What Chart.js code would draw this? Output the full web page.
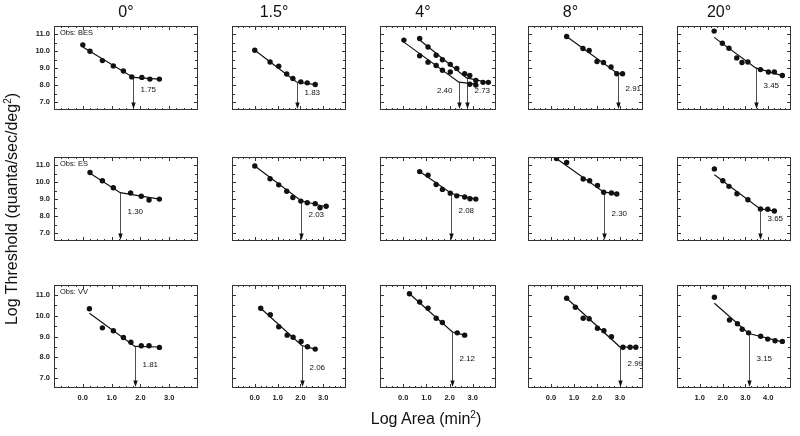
<!DOCTYPE html>
<html>
<head>
<meta charset="utf-8">
<script src="https://cdn.jsdelivr.net/npm/chart.js@4.4.0/dist/chart.umd.min.js"></script>
<style>
  body { margin: 0; background: #fff; width: 800px; height: 436px; overflow: hidden; position: relative;
         font-family: "Liberation Sans", Arial, sans-serif; color: #111; }
  canvas { position: absolute; }
  .txt { position: absolute; font-size: 16px; line-height: 20px; text-align: center; white-space: nowrap; }
  sup { font-size: 10px; line-height: 0; }
</style>
</head>
<body>
<script>
// column headings, observers, ticks
const eccentricities = ['0°', '1.5°', '4°', '8°', '20°'];
const observers = ['BES', 'ES', 'VV'];
const yTickValues = [7, 8, 9, 10, 11];
const xTickValues = [0, 1, 2, 3];
const xTickValues20 = [1, 2, 3, 4];
const yRange = [6.53, 11.48];
const xRanges = [[-1, 4], [-1, 4], [-1, 4], [-1, 4], [0, 5]];

// Obs: BES  [log area, log threshold]; fits are [start, breakpoint, end]
const bes0 = [[0.00,10.37],[0.25,9.99],[0.68,9.44],[1.06,9.13],[1.41,8.83],[1.70,8.48],[2.05,8.45],[2.33,8.35],[2.66,8.35]];
const besFit0 = [[0.00,10.24],[1.75,8.45],[2.66,8.35]];
const bes15 = [[0.00,10.05],[0.67,9.36],[1.05,9.11],[1.40,8.65],[1.67,8.39],[2.02,8.19],[2.30,8.13],[2.65,8.03]];
const besFit15 = [[0.00,10.05],[1.83,8.18],[2.65,8.03]];
const bes4Lower = [[0.03,10.65],[0.71,9.73],[1.07,9.35],[1.42,9.15],[1.69,8.87],[2.03,8.77],[2.87,8.05],[3.13,8.00]];
const besFit4Lower = [[0.03,10.53],[2.40,8.17],[3.13,8.05]];
const bes4Upper = [[0.71,10.74],[1.07,10.24],[1.42,9.76],[1.69,9.49],[2.03,9.22],[2.31,8.98],[2.65,8.67],[2.87,8.56],[3.13,8.27],[3.44,8.16],[3.67,8.16]];
const besFit4Upper = [[0.71,10.65],[2.73,8.42],[3.67,8.15]];
const bes8 = [[0.68,10.86],[1.39,10.15],[1.66,10.04],[2.00,9.39],[2.28,9.33],[2.61,9.06],[2.86,8.67],[3.11,8.67]];
const besFit8 = [[0.68,10.86],[2.91,8.67],[3.11,8.67]];
const bes20 = [[1.63,11.18],[1.99,10.46],[2.28,10.17],[2.62,9.60],[2.85,9.33],[3.11,9.36],[3.66,8.91],[4.01,8.77],[4.27,8.77],[4.62,8.56]];
const besFit20 = [[1.63,10.81],[3.45,9.01],[4.62,8.56]];

// Obs: ES
const es0 = [[0.25,10.57],[0.68,10.08],[1.06,9.67],[1.66,9.36],[2.03,9.17],[2.30,8.95],[2.66,9.00]];
const esFit0 = [[0.25,10.52],[1.30,9.38],[2.66,9.00]];
const es15 = [[0.00,10.95],[0.67,10.20],[1.05,9.84],[1.40,9.46],[1.67,9.09],[2.02,8.88],[2.30,8.78],[2.65,8.73],[2.86,8.49],[3.13,8.58]];
const esFit15 = [[0.00,10.95],[2.03,8.90],[3.13,8.55]];
const es4 = [[0.71,10.62],[1.07,10.41],[1.42,9.86],[1.69,9.57],[2.03,9.35],[2.31,9.19],[2.65,9.12],[2.88,9.02],[3.13,9.00]];
const esFit4 = [[0.71,10.62],[2.08,9.33],[3.13,9.00]];
const es8 = [[0.24,11.39],[0.68,11.16],[1.40,10.18],[1.68,10.08],[2.02,9.80],[2.29,9.40],[2.63,9.36],[2.86,9.30]];
const esFit8 = [[0.20,11.42],[2.30,9.41],[2.86,9.32]];
const es20 = [[1.64,10.78],[2.01,10.08],[2.28,9.75],[2.63,9.31],[3.11,8.96],[3.66,8.42],[3.98,8.40],[4.27,8.30]];
const esFit20 = [[1.64,10.44],[3.65,8.42],[4.27,8.30]];

// Obs: VV
const vv0 = [[0.23,10.34],[0.68,9.42],[1.06,9.28],[1.41,8.96],[1.67,8.73],[2.03,8.56],[2.30,8.56],[2.66,8.48]];
const vvFit0 = [[0.23,10.12],[1.81,8.53],[2.66,8.50]];
const vv15 = [[0.26,10.36],[0.68,10.05],[1.05,9.47],[1.42,9.07],[1.68,8.97],[2.03,8.77],[2.31,8.51],[2.65,8.40]];
const vvFit15 = [[0.26,10.36],[2.06,8.57],[2.65,8.40]];
const vv4 = [[0.27,11.06],[0.71,10.66],[1.07,10.36],[1.42,9.88],[1.69,9.68],[2.33,9.18],[2.65,9.07]];
const vvFit4 = [[0.27,11.06],[2.12,9.22],[2.65,9.07]];
const vv8 = [[0.68,10.84],[1.06,10.41],[1.40,9.88],[1.66,9.86],[2.02,9.40],[2.30,9.28],[2.63,8.99],[3.13,8.49],[3.44,8.49],[3.69,8.49]];
const vvFit8 = [[0.68,10.84],[2.99,8.51],[3.69,8.49]];
const vv20 = [[1.64,10.89],[2.30,9.80],[2.65,9.62],[2.86,9.35],[3.14,9.18],[3.67,9.02],[3.98,8.88],[4.30,8.80],[4.62,8.77]];
const vvFit20 = [[1.64,10.60],[3.15,9.15],[4.62,8.75]];

// panel boxes in page pixels
const colBoxes = [[54,198],[202,346],[350,496],[498,643],[647,791]];
const rowBoxes = [[26,128],[157,259],[285,388]];
const PAD = 10, Y_AXIS_W = 30, X_AXIS_H = 18;

const curve = (pts, fit, rise, left) => ({ pts, fit, rise, left: !!left });
const grid = [
  [[curve(bes0, besFit0, 20)], [curve(bes15, besFit15, 17)],
   [curve(bes4Lower, besFit4Lower, 19, true), curve(bes4Upper, besFit4Upper, 19)],
   [curve(bes8, besFit8, 21)], [curve(bes20, besFit20, 24)]],
  [[curve(es0, esFit0, 29)], [curve(es15, esFit15, 26)], [curve(es4, esFit4, 30)],
   [curve(es8, esFit8, 27)], [curve(es20, esFit20, 22)]],
  [[curve(vv0, vvFit0, 23)], [curve(vv15, vvFit15, 20)], [curve(vv4, vvFit4, 29)],
   [curve(vv8, vvFit8, 24)], [curve(vv20, vvFit20, 29)]]
];

const FONT = '"Liberation Sans", Arial, sans-serif';
const toXY = arr => arr.map(([x, y]) => ({ x, y }));

// panel box with inward ticks, observer tag, and breakpoint arrows
const panelPlugin = {
  id: 'panelDeco',
  afterDatasetsDraw(chart, args, opts) {
    const ctx = chart.ctx;
    const a = chart.chartArea;
    const x = chart.scales.x, y = chart.scales.y;
    const L = Math.round(a.left), T = Math.round(a.top);
    const R = Math.round(a.right) - 1, B = Math.round(a.bottom) - 1;
    ctx.save();
    ctx.fillStyle = '#333';
    ctx.fillRect(L, T, R - L + 1, 1);
    ctx.fillRect(L, B, R - L + 1, 1);
    ctx.fillRect(L, T, 1, B - T + 1);
    ctx.fillRect(R, T, 1, B - T + 1);
    for (let i = Math.ceil(y.min * 2); i <= y.max * 2; i++) {
      const py = Math.round(y.getPixelForValue(i / 2));
      const len = i % 2 === 0 ? 4 : 3;
      ctx.fillRect(L, py, len, 1);
      ctx.fillRect(R - len + 1, py, len, 1);
    }
    for (let i = Math.ceil(x.min * 4) + 1; i < x.max * 4; i++) {
      const px = Math.round(x.getPixelForValue(i / 4));
      const len = i % 4 === 0 ? 4 : 2;
      ctx.fillRect(px, T, 1, len);
      ctx.fillRect(px, B - len + 1, 1, len);
    }

    ctx.fillStyle = '#111';
    ctx.textBaseline = 'middle';
    if (opts.obs) {
      ctx.font = '7.5px ' + FONT;
      ctx.textAlign = 'left';
      ctx.fillText('Obs: ' + opts.obs, L + 6, T + 7);
    }

    ctx.strokeStyle = '#222';
    ctx.lineWidth = 0.8;
    ctx.font = '8px ' + FONT;
    opts.curves.forEach(c => {
      const [bx, by] = c.fit[1];
      const px = Math.round(x.getPixelForValue(bx)) + 0.5;
      const top = y.getPixelForValue(by);
      const tip = B;
      ctx.beginPath();
      ctx.moveTo(px, top); ctx.lineTo(px, tip - 5);
      ctx.stroke();
      ctx.beginPath();
      ctx.moveTo(px - 2.2, tip - 6.5); ctx.lineTo(px + 2.2, tip - 6.5); ctx.lineTo(px, tip);
      ctx.closePath();
      ctx.fill();
      ctx.textAlign = c.left ? 'right' : 'left';
      ctx.fillText(bx.toFixed(2), px + (c.left ? -7 : 7), B + 1 - c.rise);
    });
    ctx.restore();
  }
};

function makePanel(r, c) {
  const [cl, cr] = colBoxes[c];
  const [rt, rb] = rowBoxes[r];
  const showY = c === 0, showX = r === 2;
  const left = cl - PAD - (showY ? Y_AXIS_W : 0);
  const w = cr - cl + 2 * PAD + (showY ? Y_AXIS_W : 0);
  const h = rb - rt + 2 * PAD + (showX ? X_AXIS_H : 0);
  const canvas = document.createElement('canvas');
  canvas.width = w; canvas.height = h;
  canvas.style.left = left + 'px';
  canvas.style.top = (rt - PAD) + 'px';
  document.body.appendChild(canvas);

  const curves = grid[r][c];
  const datasets = [];
  curves.forEach(cv => datasets.push({
    data: toXY(cv.pts), showLine: false, pointRadius: 2.7, pointHoverRadius: 2.7,
    pointBackgroundColor: '#111', pointBorderWidth: 0
  }));
  curves.forEach(cv => datasets.push({
    data: toXY(cv.fit), showLine: true, pointRadius: 0, borderColor: '#111', borderWidth: 1.2, tension: 0
  }));

  const tickFont = { family: FONT, size: 7.5, weight: 'bold' };
  const xTicks = c === 4 ? xTickValues20 : xTickValues;

  new Chart(canvas, {
    type: 'scatter',
    data: { datasets },
    options: {
      responsive: false,
      animation: false,
      devicePixelRatio: 1,
      events: [],
      layout: { padding: PAD, autoPadding: false },
      plugins: {
        legend: { display: false },
        tooltip: { enabled: false },
        panelDeco: { obs: c === 0 ? observers[r] : '', curves }
      },
      scales: {
        x: {
          type: 'linear', min: xRanges[c][0], max: xRanges[c][1], display: showX,
          grid: { display: false, drawTicks: false }, border: { display: false },
          afterBuildTicks: s => { s.ticks = xTicks.map(v => ({ value: v })); },
          afterFit: s => { s.height = X_AXIS_H; },
          ticks: { font: tickFont, color: '#222', padding: 5, maxRotation: 0, callback: v => v.toFixed(1) }
        },
        y: {
          type: 'linear', min: yRange[0], max: yRange[1], display: showY,
          grid: { display: false, drawTicks: false }, border: { display: false },
          afterBuildTicks: s => { s.ticks = yTickValues.map(v => ({ value: v })); },
          afterFit: s => { s.width = Y_AXIS_W; },
          ticks: { font: tickFont, color: '#222', padding: 4, callback: v => v.toFixed(1) }
        }
      }
    },
    plugins: [panelPlugin]
  });
}

function addText(html, css) {
  const d = document.createElement('div');
  d.className = 'txt';
  d.innerHTML = html;
  Object.assign(d.style, css);
  document.body.appendChild(d);
}

for (let r = 0; r < 3; r++) for (let c = 0; c < 5; c++) makePanel(r, c);

eccentricities.forEach((t, c) => {
  const [cl, cr] = colBoxes[c];
  addText(t, { left: cl + 'px', width: (cr - cl) + 'px', top: '2px' });
});
addText('Log Threshold (quanta/sec/deg<sup>2</sup>)',
  { left: '-138px', width: '300px', top: '199px', transform: 'rotate(-90deg)' });
addText('Log Area (min<sup>2</sup>)', { left: '326px', width: '200px', top: '409px' });
</script>
</body>
</html>
